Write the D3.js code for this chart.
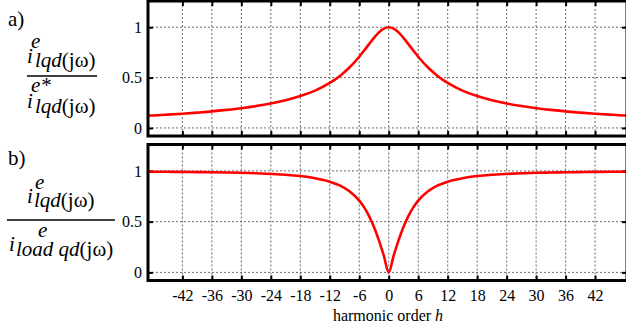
<!DOCTYPE html>
<meta charset="utf-8">
<style>
body { margin: 0; background: #fff; }
svg text { fill: #000; }
</style>
<body>
<script src="https://d3js.org/d3.v7.min.js"></script>
<script>
// harmonic order samples and the two curves
var harmonics = [-49, -48, -45, -42, -39, -36, -33, -30, -27, -24, -21, -18, -15, -12, -10, -8, -6, -5, -4, -3, -2, -1, 0,
                 1, 2, 3, 4, 5, 6, 8, 10, 12, 15, 18, 21, 24, 27, 30, 33, 36, 39, 42, 45, 48, 49];
var gainA = [0.122, 0.124, 0.132, 0.141, 0.152, 0.164, 0.179, 0.196, 0.217, 0.243, 0.275, 0.316, 0.371, 0.447, 0.514, 0.600, 0.707, 0.768, 0.832, 0.894, 0.949, 0.986, 1.000,
             0.986, 0.949, 0.894, 0.832, 0.768, 0.707, 0.600, 0.514, 0.447, 0.371, 0.316, 0.275, 0.243, 0.217, 0.196, 0.179, 0.164, 0.152, 0.141, 0.132, 0.124, 0.122];
var gainB = [0.993, 0.992, 0.991, 0.990, 0.988, 0.986, 0.984, 0.981, 0.976, 0.970, 0.962, 0.949, 0.928, 0.894, 0.857, 0.800, 0.707, 0.640, 0.555, 0.447, 0.316, 0.164, 0.000,
             0.164, 0.316, 0.447, 0.555, 0.640, 0.707, 0.800, 0.857, 0.894, 0.928, 0.949, 0.962, 0.970, 0.976, 0.981, 0.984, 0.986, 0.988, 0.990, 0.991, 0.992, 0.993];
var xTicks = [-42, -36, -30, -24, -18, -12, -6, 0, 6, 12, 18, 24, 30, 36, 42];
var yTicks = [0, 0.5, 1];

var width = 626, height = 329;
var left = 148, right = 627;
var serif = '"Liberation Serif", "Times New Roman", Times, Tinos, "Nimbus Roman", "Nimbus Roman No9 L", FreeSerif, "Noto Serif", "DejaVu Serif", serif';

var svg = d3.select("body").append("svg")
    .attr("width", width)
    .attr("height", height)
    .attr("font-family", serif);

var x = d3.scaleLinear().domain([-49, 48.5]).range([left, right]);

function panel(top, bottom, values, showLabels, id) {
  var y = d3.scaleLinear().domain([-0.08, 1.26]).range([bottom, top]);
  var g = svg.append("g");

  g.append("clipPath").attr("id", id)
    .append("rect").attr("x", left).attr("y", top).attr("width", right - left).attr("height", bottom - top);

  // dotted grid
  g.append("g").selectAll("line").data(xTicks).enter().append("line")
    .attr("x1", x).attr("x2", x).attr("y1", top).attr("y2", bottom)
    .attr("stroke", "#444").attr("stroke-width", 0.8).attr("stroke-dasharray", "2,2");
  g.append("g").selectAll("line").data(yTicks).enter().append("line")
    .attr("x1", left).attr("x2", right).attr("y1", y).attr("y2", y)
    .attr("stroke", "#444").attr("stroke-width", 0.8).attr("stroke-dasharray", "2,2");

  // inward ticks on all four sides
  var axes = [
    d3.axisBottom(x).tickValues(xTicks).tickSize(-5).tickPadding(9).tickFormat(showLabels ? d3.format("d") : ""),
    d3.axisTop(x).tickValues(xTicks).tickSize(-5).tickFormat(""),
    d3.axisLeft(y).tickValues(yTicks).tickSize(-5).tickPadding(6).tickFormat(d3.format("")),
    d3.axisRight(y).tickValues(yTicks).tickSize(-5).tickFormat("")
  ];
  var pos = ["translate(0," + bottom + ")", "translate(0," + top + ")",
             "translate(" + left + ",0)", "translate(" + right + ",0)"];
  axes.forEach(function(a, i) {
    var ag = g.append("g").attr("transform", pos[i]).call(a);
    ag.attr("font-family", serif).attr("font-size", 16);
    ag.select(".domain").remove();
    ag.selectAll(".tick line").attr("stroke", "#000").attr("stroke-width", 2);
    ag.selectAll("text").attr("fill", "#000");
  });
  g.selectAll(".tick text").text(function() {
    return d3.select(this).text().replace("−", "-");
  });

  var line = d3.line()
    .x(function(d, i) { return x(harmonics[i]); })
    .y(function(d) { return y(d); })
    .curve(d3.curveMonotoneX);

  g.append("path").datum(values)
    .attr("clip-path", "url(#" + id + ")")
    .attr("d", line)
    .attr("fill", "none")
    .attr("stroke", "#ff0000")
    .attr("stroke-width", 2.6);

  g.append("rect")
    .attr("x", left).attr("y", top).attr("width", right - left).attr("height", bottom - top)
    .attr("fill", "none").attr("stroke", "#000").attr("stroke-width", 3);
}

panel(1, 136, gainA, false, "clipA");
panel(144.5, 280.5, gainB, true, "clipB");

svg.append("text").attr("x", 388).attr("y", 321).attr("text-anchor", "middle")
  .attr("font-size", 16)
  .html('harmonic order <tspan font-style="italic">h</tspan>');

// left-hand formula labels: i with superscript e and subscript, one text each
function formula(parts) {
  var t = svg.append("text").attr("font-size", 21);
  parts.forEach(function(p) {
    t.append("tspan").attr("x", p[0]).attr("y", p[1])
      .attr("font-style", p[3] ? "italic" : "normal")
      .text(p[2]);
  });
}
formula([[8, 26, "a)", false]]);
formula([[27, 63, "i", true], [31, 48, "e", true], [35, 67, "lqd", true], [null, 67, "(jω)", false]]);
svg.append("line").attr("x1", 27).attr("x2", 97).attr("y1", 76).attr("y2", 76).attr("stroke", "#000").attr("stroke-width", 1.5);
formula([[27, 108, "i", true], [31, 92, "e*", true], [35, 113, "lqd", true], [null, 113, "(jω)", false]]);

formula([[8, 165, "b)", false]]);
formula([[27, 203, "i", true], [35, 189, "e", true], [34, 207, "lqd", true], [null, 207, "(jω)", false]]);
svg.append("line").attr("x1", 7).attr("x2", 115).attr("y1", 220).attr("y2", 220).attr("stroke", "#000").attr("stroke-width", 1.5);
formula([[9, 251, "i", true], [38, 237, "e", true], [16, 256, "load qd", true], [null, 256, "(jω)", false]]);
</script>
